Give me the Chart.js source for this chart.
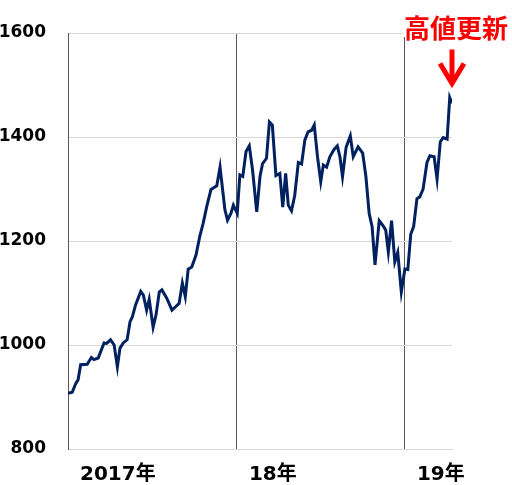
<!DOCTYPE html>
<html lang="ja">
<head>
    <meta charset="UTF-8">
    <title>高値更新</title>
    <style>
        body { margin: 0; background: #fff; }
    </style>
</head>
<body>
    <div style="width: 512px; height: 485px;">
        <canvas id="myChart" width="512" height="485"></canvas>
    </div>
    <script src="https://cdn.jsdelivr.net/npm/chart.js"></script>
    <script>
        // 週番号 (2017年初 = 0)
        const weeks = [0, 1.3, 2.4, 3.1, 3.9, 5.9, 7.2, 8.0, 9.3, 11.1, 11.9, 13.1, 14.2, 15.2, 16.0, 17.0, 18.2, 19.1, 19.8, 20.8,
            22.4, 23.2, 24.2, 25.0, 26.2, 27.1, 28.1, 28.9, 30.4, 32.0, 33.2, 34.2, 35.2, 36.1, 37.0, 38.1, 39.4, 40.6, 41.6, 42.7,
            44.0, 45.8, 46.8, 47.6, 48.3, 49.1, 50.2, 50.9, 52.1, 52.9, 53.8, 54.8, 55.8, 56.8, 58.1, 59.1, 59.9, 61.1, 62.0, 62.9,
            64.0, 65.2, 66.1, 67.0, 67.8, 68.8, 69.8, 70.9, 71.9, 72.9, 73.9, 75.0, 75.8, 76.8, 77.8, 78.6, 79.6, 80.6, 81.9, 82.9,
            83.7, 84.5, 85.6, 86.9, 87.8, 89.3, 90.7, 91.7, 92.7, 93.6, 94.5, 95.8, 97.0, 97.8, 98.6, 99.6, 100.6, 101.5, 102.6, 103.7,
            104.6, 105.5, 106.4, 107.4, 108.3, 109.3, 110.5, 111.4, 112.7, 113.6, 114.6, 115.5, 116.7, 117.5, 118.2];
        const values = [907, 909, 926, 933, 962, 963, 976, 972, 975, 1004, 1003, 1010, 1000, 958, 994, 1004, 1010, 1045, 1054, 1077,
            1103, 1096, 1067, 1088, 1034, 1058, 1102, 1106, 1090, 1067, 1074, 1080, 1119, 1093, 1146, 1150, 1173, 1210, 1234, 1266,
            1299, 1306, 1342, 1298, 1260, 1240, 1254, 1269, 1253, 1327, 1324, 1372, 1383, 1337, 1256, 1324, 1349, 1359, 1429, 1423,
            1326, 1330, 1265, 1330, 1269, 1258, 1288, 1351, 1348, 1394, 1410, 1413, 1423, 1362, 1314, 1346, 1342, 1362, 1376, 1383,
            1362, 1324, 1380, 1402, 1362, 1381, 1369, 1324, 1253, 1228, 1154, 1239, 1229, 1221, 1179, 1239, 1160, 1178, 1102, 1146,
            1145, 1213, 1228, 1281, 1285, 1300, 1351, 1364, 1362, 1319, 1391, 1399, 1396, 1476, 1465];

        const yearStarts = [0, 52, 103.7];
        const yearLabels = ['2017年', '18年', '19年'];
        const yTicks = [800, 1000, 1200, 1400, 1600];
        const noteText = '高値更新';

        const v_font = '"DejaVu Sans", "Noto Sans CJK JP", sans-serif';

        // 注記 (赤い矢印と文字)
        const notePlugin = {
            id: 'note',
            afterDraw(chart) {
                const ctx = chart.ctx;
                const xs = chart.scales.x, ys = chart.scales.y;
                let iMax = values.indexOf(Math.max(...values));
                let tipX = xs.getPixelForValue(weeks[weeks.length - 1]);
                let tipY = ys.getPixelForValue(values[iMax]) - 12;

                ctx.save();
                ctx.strokeStyle = '#ff0000';
                ctx.lineWidth = 5;
                ctx.lineJoin = 'miter';
                ctx.beginPath();
                ctx.moveTo(tipX, tipY - 36);
                ctx.lineTo(tipX, tipY - 2);
                ctx.stroke();
                ctx.beginPath();
                ctx.moveTo(tipX - 12, tipY - 22);
                ctx.lineTo(tipX, tipY - 2);
                ctx.lineTo(tipX + 12, tipY - 22);
                ctx.stroke();

                ctx.font = 'bold 26px "Noto Sans CJK JP"';
                let w = ctx.measureText(noteText).width;
                let cx = tipX + 4;
                ctx.fillStyle = '#fff';
                ctx.fillRect(cx - w / 2 - 1, 10, w + 2, 27);
                ctx.fillStyle = '#ff0000';
                ctx.textAlign = 'center';
                ctx.textBaseline = 'bottom';
                ctx.fillText(noteText, cx, 41);
                ctx.restore();
            }
        };

        const ctx = document.getElementById('myChart');

        new Chart(ctx, {
            type: 'line',
            data: {
                datasets: [{
                    data: weeks.map((w, i) => ({ x: w, y: values[i] })),
                    borderColor: '#002060',
                    borderWidth: 3,
                    pointRadius: 0,
                    tension: 0
                }]
            },
            options: {
                responsive: false,
                animation: false,
                layout: {
                    padding: { top: 33, right: 60, left: 0, bottom: 0 }
                },
                plugins: {
                    legend: { display: false },
                    tooltip: { enabled: false }
                },
                scales: {
                    x: {
                        type: 'linear',
                        min: 0,
                        max: 118.2,
                        afterBuildTicks: (scale) => {
                            scale.ticks = yearStarts.map(v => ({ value: v }));
                        },
                        afterFit: (scale) => { scale.height = 36; },
                        grid: { color: '#595959', lineWidth: 1, drawTicks: false },
                        border: { color: '#d9d9d9' },
                        ticks: {
                            autoSkip: false,
                            maxRotation: 0,
                            align: 'start',
                            labelOffset: 12,
                            padding: 14,
                            color: '#000',
                            font: { family: v_font, size: 20, weight: 'bold' },
                            callback: (val, idx) => yearLabels[idx]
                        }
                    },
                    y: {
                        min: 800,
                        max: 1600,
                        afterBuildTicks: (scale) => {
                            scale.ticks = yTicks.map(v => ({ value: v }));
                        },
                        afterFit: (scale) => { scale.width = 68; },
                        grid: { color: '#d9d9d9', lineWidth: 1, drawTicks: false },
                        border: { color: '#595959' },
                        ticks: {
                            padding: 22,
                            color: '#000',
                            font: { family: v_font, size: 17, weight: 'bold' },
                            callback: (val) => String(val)
                        }
                    }
                }
            },
            plugins: [notePlugin]
        });
    </script>
</body>
</html>
